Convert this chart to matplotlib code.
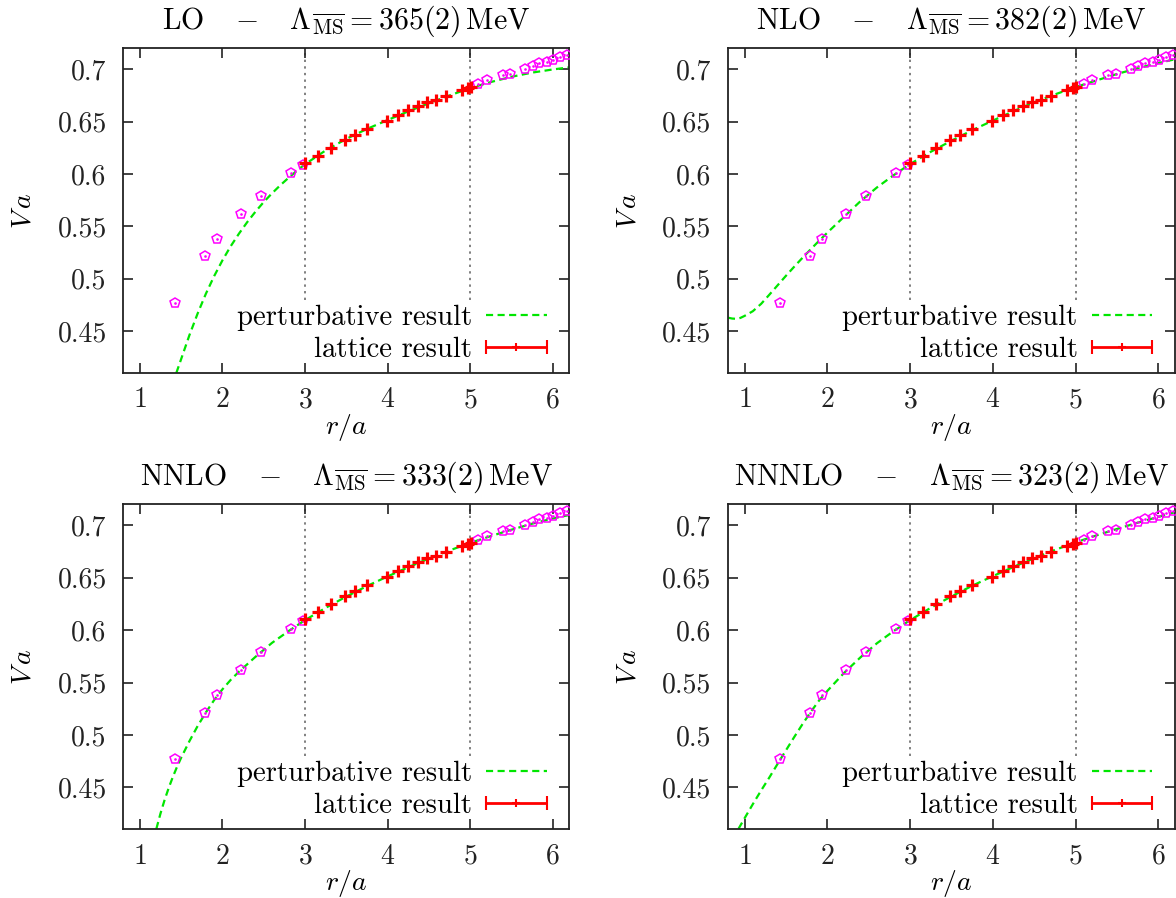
import numpy as np
import matplotlib
matplotlib.use("Agg")
import matplotlib.pyplot as plt
from matplotlib.container import ErrorbarContainer
from matplotlib.legend_handler import HandlerErrorbar

plt.rcParams['font.family'] = 'cmr10'
plt.rcParams['mathtext.fontset'] = 'cm'
plt.rcParams['axes.formatter.use_mathtext'] = True
plt.rcParams['font.size'] = 19.5

# ---------------- data ----------------
# lattice points outside the fit window
r_low = [1.428, 1.788, 1.933, 2.228, 2.466, 2.826, 2.975]
V_low = [0.4768, 0.5213, 0.5381, 0.5619, 0.5794, 0.6006, 0.6086]
r_high = [5.100, 5.200, 5.394, 5.483, 5.665, 5.758, 5.838, 5.931, 6.008, 6.089, 6.174]
V_high = [0.6863, 0.6902, 0.6943, 0.6959, 0.7006, 0.7029, 0.7060, 0.7070, 0.7092, 0.7117, 0.7133]
# lattice points inside the fit window 3 <= r/a <= 5
r_fit = [3.000, 3.153, 3.310, 3.484, 3.605, 3.746, 3.989, 4.126, 4.247, 4.368,
         4.473, 4.582, 4.703, 4.897, 4.970, 5.010]
V_fit = [0.6102, 0.6175, 0.6251, 0.6324, 0.6371, 0.6429, 0.6505, 0.6562, 0.6610, 0.6651,
         0.6689, 0.6711, 0.6746, 0.6806, 0.6822, 0.6832]

# perturbative curves
r_LO = [1.442, 1.5, 1.6, 1.7, 1.8, 1.9, 2.0, 2.1, 2.2, 2.3, 2.4, 2.5, 2.6, 2.7, 2.8,
        2.9, 3.0, 3.25, 3.5, 3.75, 4.0, 4.25, 4.5, 4.75, 5.0, 5.25, 5.5, 5.75, 6.0, 6.2]
V_LO = [0.410, 0.4232, 0.4460, 0.4668, 0.4857, 0.5025, 0.5175, 0.5310, 0.5430, 0.5540,
        0.5640, 0.5732, 0.5815, 0.5892, 0.5963, 0.6030, 0.6093, 0.6225, 0.6335, 0.6430,
        0.6515, 0.6598, 0.6675, 0.6750, 0.6820, 0.6878, 0.6928, 0.6968, 0.6998, 0.7018]

r_NLO = [0.8, 0.85, 0.9, 0.95, 1.0, 1.1, 1.2, 1.3, 1.4, 1.5, 1.6, 1.7, 1.8, 1.9, 2.0,
         2.2, 2.4, 2.6, 2.8, 3.0, 3.25, 3.5, 3.75, 4.0, 4.25, 4.5, 4.75, 5.0, 5.25,
         5.5, 5.75, 6.0, 6.2]
V_NLO = [0.4628, 0.4620, 0.4617, 0.4626, 0.4645, 0.4690, 0.4760, 0.4848, 0.4938,
         0.5028, 0.5115, 0.5200, 0.5282, 0.5362, 0.5440, 0.5590, 0.5740, 0.5872,
         0.5988, 0.6095, 0.6212, 0.6318, 0.6418, 0.6510, 0.6600, 0.6685, 0.6760,
         0.6830, 0.6893, 0.6955, 0.7010, 0.7060, 0.7095]

r_NNLO = [1.2, 1.25, 1.3, 1.35, 1.4, 1.45, 1.5, 1.6, 1.7, 1.8, 1.9, 2.0, 2.1, 2.2, 2.4,
          2.6, 2.8, 3.0, 3.25, 3.5, 3.75, 4.0, 4.25, 4.5, 4.75, 5.0, 5.25, 5.5, 5.75,
          6.0, 6.2]
V_NNLO = [0.4104, 0.4250, 0.4380, 0.4495, 0.4600, 0.4695, 0.4782, 0.4940, 0.5085,
          0.5215, 0.5333, 0.5435, 0.5525, 0.5603, 0.5745, 0.5878, 0.5990, 0.6095,
          0.6212, 0.6320, 0.6420, 0.6512, 0.6600, 0.6683, 0.6760, 0.6832, 0.6897,
          0.6958, 0.7015, 0.7065, 0.7098]

r_NNNLO = [0.927, 1.0, 1.1, 1.2, 1.3, 1.4, 1.5, 1.6, 1.7, 1.8, 1.9, 2.0, 2.2, 2.4,
           2.6, 2.8, 3.0, 3.25, 3.5, 3.75, 4.0, 4.25, 4.5, 4.75, 5.0, 5.25, 5.5, 5.75,
           6.0, 6.2]
V_NNNLO = [0.4105, 0.4205, 0.4340, 0.4470, 0.4595, 0.4725, 0.4853, 0.4980, 0.5103,
           0.5220, 0.5328, 0.5420, 0.5590, 0.5740, 0.5875, 0.5990, 0.6095, 0.6213,
           0.6322, 0.6423, 0.6515, 0.6603, 0.6687, 0.6765, 0.6837, 0.6903, 0.6965,
           0.7025, 0.7080, 0.7125]

orders = ['LO', 'NLO', 'NNLO', 'NNNLO']
lambdas = ['365(2)', '382(2)', '333(2)', '323(2)']
curves = [(r_LO, V_LO), (r_NLO, V_NLO), (r_NNLO, V_NNLO), (r_NNNLO, V_NNNLO)]

x_ticks = [1, 2, 3, 4, 5, 6]
y_ticks = [0.45, 0.5, 0.55, 0.6, 0.65, 0.7]
y_ticklabels = ['0.45', '0.5', '0.55', '0.6', '0.65', '0.7']
fit_window = [3, 5]

# ---------------- figure ----------------
W, H = 1176, 898
fig = plt.figure(figsize=(W / 100, H / 100), dpi=100)

def frac(l, r, t, b):
    return [l / W, 1 - b / H, (r - l) / W, (b - t) / H]

boxes = [frac(123.3, 569.3, 48.3, 373.0),
         frac(728.0, 1175.0, 48.3, 373.0),
         frac(123.3, 569.3, 504.3, 829.3),
         frac(728.0, 1175.0, 504.3, 829.3)]

GREEN = '#00e600'
for i, box in enumerate(boxes):
    ax = fig.add_axes(box)
    ax.set_xlim(0.8, 6.2)
    ax.set_ylim(0.41, 0.72)

    ax.vlines(fit_window, 0.48, 0.72, colors='#808080', linestyles=(0, (1.2, 2.2)),
              linewidth=1.4, zorder=1)

    rc, vc = curves[i]
    ax.plot(rc, vc, color=GREEN, lw=1.6, ls=(0, (3.2, 2.0)), zorder=2,
            label='perturbative result')

    for rr, vv in [(r_low, V_low), (r_high, V_high)]:
        ax.plot(rr, vv, ls='none', marker='p', ms=7, mfc='none', mec='#ff00ff',
                mew=1.1, zorder=3)
        ax.plot(rr, vv, ls='none', marker='.', ms=1.8, color='#ff00ff', zorder=3)

    ax.plot(r_fit, V_fit, ls='none', marker='+', ms=8.5, mew=2.3, color='#ff0000',
            zorder=4)

    proxy = ax.errorbar([np.nan], [np.nan], xerr=[1.0], fmt='+', color='#ff0000',
                        ms=6, mew=1.5, elinewidth=2.0, capsize=5, capthick=1.8,
                        label='lattice result')

    handles, labels = ax.get_legend_handles_labels()
    leg = ax.legend(handles, labels, loc='lower right', markerfirst=False,
                    frameon=False, handlelength=2.1, handletextpad=0.5,
                    labelspacing=0.2, borderaxespad=0.0, fontsize=20.7,
                    bbox_to_anchor=(0.975, -0.004),
                    handler_map={ErrorbarContainer: HandlerErrorbar(xerr_size=1.05)})

    ax.set_xticks(x_ticks)
    ax.set_yticks(y_ticks)
    ax.set_yticklabels(y_ticklabels)
    ax.tick_params(direction='in', length=7, width=1.2, top=True, right=True,
                   colors='#222222', labelsize=20)
    ax.tick_params(axis='y', pad=12)
    ax.tick_params(axis='x', pad=10)
    for s in ax.spines.values():
        s.set_linewidth(1.3)
        s.set_color('#222222')

    ax.set_xlabel(r'$r/a$', labelpad=-1, fontsize=20)
    ax.set_ylabel(r'$V\,a$', labelpad=15, fontsize=20)
    ax.set_title(orders[i] + r'$\quad-\quad\Lambda_{\overline{\rm MS}} = '
                 + lambdas[i] + r'\,{\rm MeV}$', pad=14, fontsize=21.5)

fig.savefig('out.png', dpi=100)
